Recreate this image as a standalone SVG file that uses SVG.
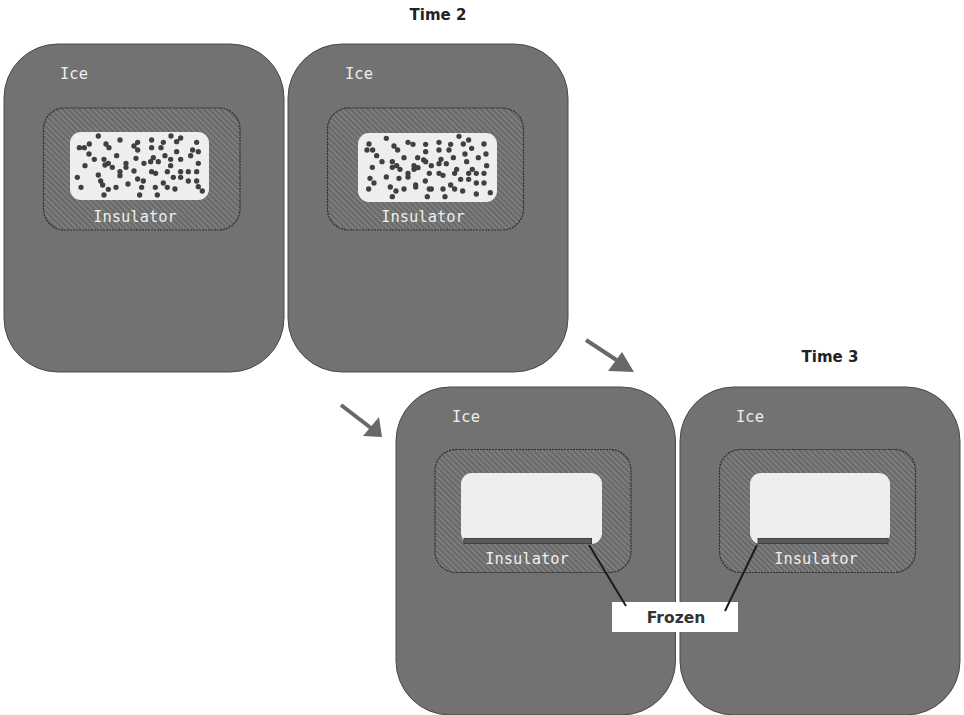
<svg xmlns="http://www.w3.org/2000/svg" width="964" height="715" viewBox="0 0 964 715">
  <style>
    .ice { fill: #727272; stroke: #4a4a4a; stroke-width: 1; }
    .insulator { fill: url(#hatch); stroke: #2e2e2e; stroke-width: 1.2; stroke-dasharray: 2 1; }
    .cavity { fill: #eeeeee; }
    .frost { fill: #5a5a5a; stroke: #404040; stroke-width: 1; }
    .label { font-family: "DejaVu Sans Mono", "Liberation Mono", monospace; font-size: 15.4px; fill: #eeeeee; text-anchor: middle; }
    .title { font-family: "DejaVu Sans", "Liberation Sans", sans-serif; font-size: 15px; font-weight: bold; fill: #222222; text-anchor: middle; }
    .dots { fill: none; stroke: #404040; stroke-width: 16; stroke-linecap: round; }
    .pointer { fill: none; stroke: #686868; stroke-width: 4; }
    .head { fill: #686868; }
    .leader { fill: none; stroke: #1c1c1c; stroke-width: 2; }
  </style>
  <defs>
    <pattern id="hatch" width="4" height="4" patternUnits="userSpaceOnUse" patternTransform="rotate(-45)">
      <rect width="4" height="4" fill="#696969"/>
      <rect x="0" width="1.4" height="4" fill="#858585"/>
    </pattern>
  </defs>
  <rect width="964" height="715" fill="#ffffff"/>

  <g id="time-2-left">
    <rect class="ice" x="4" y="44" width="280" height="328" rx="54" ry="54"/>
    <text class="label" x="74" y="79">Ice</text>
    <rect class="insulator" x="43.5" y="108" width="196.500" height="122" rx="21"/>
    <rect class="cavity" x="70" y="132" width="139" height="68" rx="11"/>
    <!-- particles, drawn in a 3x local grid -->
    <path class="dots" transform="translate(30 95) scale(.3333)" d="M205 123h0M270 135h0M148 158h0M163 158h0M178 147h0M177 177h0M193 193h0M228 147h0M237 158h0M165 212h0M222 193h0M225 210h0M235 205h0M247 217h0M260 182h0M288 205h0M288 217h0M270 230h0M270 242h0M312 228h0M323 142h0M312 153h0M323 165h0M318 190h0M342 205h0M365 135h0M365 158h0M400 142h0M393 158h0M370 188h0M362 200h0M385 200h0M405 182h0M422 193h0M422 212h0M423 123h0M440 140h0M452 129h0M440 170h0M452 193h0M482 182h0M488 165h0M505 170h0M505 205h0M500 142h0M412 230h0M365 230h0M377 235h0M430 247h0M452 230h0M452 247h0M475 230h0M500 230h0M475 258h0M500 258h0M505 275h0M517 288h0M142 247h0M153 277h0M205 240h0M212 258h0M218 270h0M235 283h0M222 300h0M258 277h0M294 267h0M323 252h0M340 258h0M335 277h0M329 300h0M376 277h0M382 300h0M400 264h0M412 277h0M435 282h0"/>
    <text class="label" x="135" y="222">Insulator</text>
  </g>

  <g id="time-2-right">
    <rect class="ice" x="288" y="44" width="280" height="328" rx="54" ry="54"/>
    <text class="label" x="359" y="79">Ice</text>
    <rect class="insulator" x="327.500" y="108" width="196" height="122" rx="21"/>
    <rect class="cavity" x="358" y="133" width="139" height="69" rx="11"/>
    <path class="dots" transform="translate(320 95) scale(.3333)" d="M199 130h0M147 147h0M141 165h0M158 165h0M170 182h0M186 200h0M222 153h0M233 165h0M264 142h0M279 148h0M317 148h0M317 170h0M357 142h0M357 165h0M392 148h0M387 165h0M252 188h0M293 188h0M311 195h0M317 200h0M334 212h0M363 193h0M357 206h0M379 206h0M400 188h0M417 124h0M430 147h0M446 135h0M455 160h0M435 177h0M475 188h0M492 147h0M498 177h0M440 200h0M500 212h0M157 217h0M217 200h0M217 217h0M230 212h0M240 223h0M282 212h0M282 223h0M294 218h0M264 235h0M264 246h0M328 235h0M357 235h0M369 241h0M404 235h0M410 223h0M457 223h0M446 235h0M469 235h0M492 235h0M422 253h0M446 253h0M469 264h0M492 264h0M511 293h0M469 297h0M428 288h0M404 282h0M392 270h0M369 282h0M375 305h0M322 305h0M328 282h0M334 282h0M316 258h0M287 270h0M287 276h0M252 282h0M228 288h0M211 276h0M217 305h0M199 246h0M237 250h0M150 250h0M162 264h0M146 282h0"/>
    <text class="label" x="423" y="222">Insulator</text>
  </g>

  <g id="time-3-left">
    <rect class="ice" x="396" y="387" width="279.500" height="328" rx="54" ry="54"/>
    <text class="label" x="466" y="422">Ice</text>
    <rect class="insulator" x="435" y="449.500" width="196" height="123" rx="21"/>
    <rect class="cavity" x="461" y="473" width="141" height="71" rx="11"/>
    <rect class="frost" x="464" y="538.500" width="127.500" height="5"/>
    <text class="label" x="527" y="564">Insulator</text>
  </g>

  <g id="time-3-right">
    <rect class="ice" x="680" y="387" width="280" height="328" rx="54" ry="54"/>
    <text class="label" x="750" y="422">Ice</text>
    <rect class="insulator" x="719.500" y="449.500" width="196" height="123" rx="21"/>
    <rect class="cavity" x="750" y="473" width="140" height="71" rx="11"/>
    <rect class="frost" x="758" y="538.500" width="130" height="5"/>
    <text class="label" x="816" y="564">Insulator</text>
  </g>

  <g id="frozen-label">
    <rect x="612" y="602" width="126" height="30" fill="#ffffff"/>
    <text class="title" x="676" y="623" style="font-size:15.5px;fill:#333">Frozen</text>
  </g>

  <g id="time-2-title"><text class="title" x="438" y="20">Time 2</text></g>
  <g id="time-3-title"><text class="title" x="830" y="362">Time 3</text></g>

  <g id="connectors">
    <path class="pointer" d="M586 340L618 361"/>
    <path class="head" d="M634 372L622 352L608 371Z"/>
    <path class="pointer" d="M341 405L371 428"/>
    <path class="head" d="M382 437L379 417L363 436Z"/>
    <path class="leader" d="M589 545L626 606"/>
    <path class="leader" d="M757 545L725 611"/>
  </g>
</svg>
